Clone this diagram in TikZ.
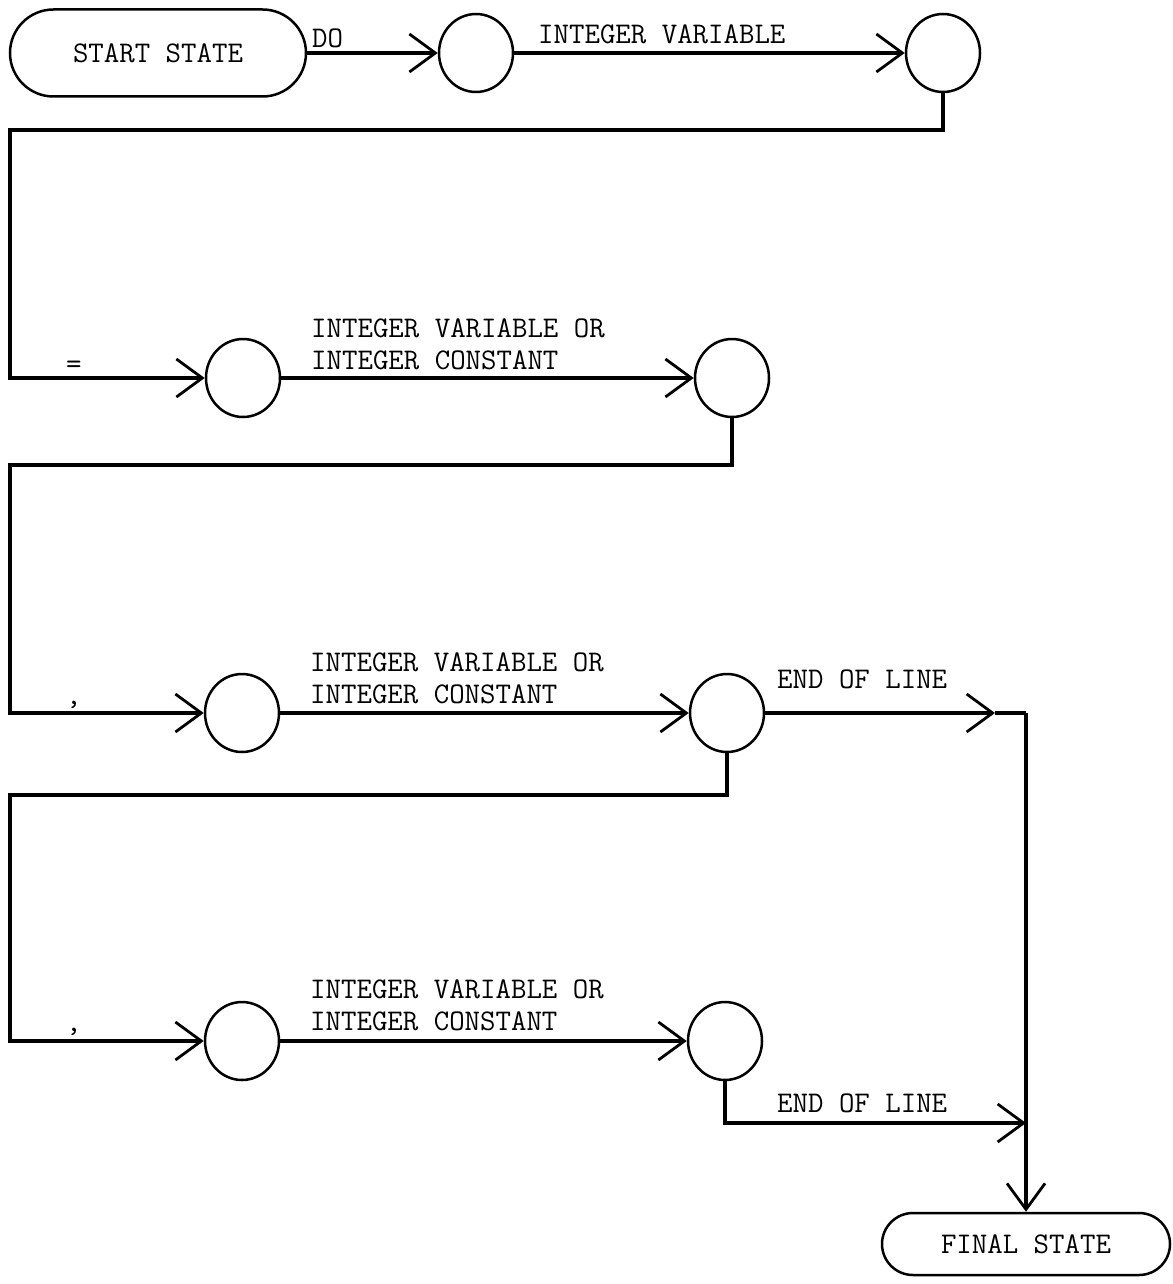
\documentclass[tikz,border=0pt]{standalone}
\usepackage{fontspec}
\usetikzlibrary{arrows.meta,shapes.misc,shapes.geometric}
\newcommand\lblfont{\fontsize{30}{31}\selectfont\ttfamily}
\begin{document}
\begin{tikzpicture}[x=1pt,y=-1pt,
  st/.style={ellipse,draw,line width=2.5pt,minimum width=74pt,minimum height=78pt,inner sep=0pt},
  term/.style={rounded rectangle,draw,line width=2.5pt,inner sep=0pt,font=\lblfont},
  conn/.style={line width=3.2pt},
  arr/.style={conn,-{Straight Barb[length=26pt,width=38pt,line width=2.8pt]}},
  lbl/.style={anchor=base west,inner sep=0pt,font=\lblfont},
]
\useasboundingbox (0,0) rectangle (1172,1284);
% states
\node[term,minimum width=296pt,minimum height=87pt] (start) at (158,53) {START STATE};
\node[st] (c1) at (476,53) {};
\node[st] (c2) at (943,53) {};
\node[st] (c3) at (243,378) {};
\node[st] (c4) at (732,378) {};
\node[st] (c5) at (242,713) {};
\node[st] (c6) at (727,713) {};
\node[st] (c7) at (242,1041) {};
\node[st] (c8) at (725,1041) {};
\node[term,minimum width=288pt,minimum height=62pt] (final) at (1026,1244) {FINAL STATE};
% bend points
\coordinate (b1) at (10,130);
\coordinate (b2) at (10,465);
\coordinate (b3) at (10,795);
\coordinate (a1) at (995,713);
\coordinate (j1) at (1026,713);
\coordinate (j2) at (1026,1123);
% connectors
\draw[arr] (start.east) -- (c1.west);
\draw[arr] (c1.east) -- (c2.west);
\draw[arr] (c2.south) |- (b1) |- (c3.west);
\draw[arr] (c3.east) -- (c4.west);
\draw[arr] (c4.south) |- (b2) |- (c5.west);
\draw[arr] (c5.east) -- (c6.west);
\draw[arr] (c6.east) -- (a1);
\draw[conn] (a1) -- (j1);
\draw[arr] (c6.south) |- (b3) |- (c7.west);
\draw[arr] (c7.east) -- (c8.west);
\draw[arr] (c8.south) |- (j2);
\draw[arr] (j1) -- (final.north);
% labels
\node[lbl] (lDO) at (312,48) {DO};
\node[lbl] (l2) at (538,44) {INTEGER VARIABLE};
\node[lbl] (leq) at (66,373) {=};
\node[lbl] (l3a) at (311,337) {INTEGER VARIABLE OR};
\node[lbl] (l3b) at (311,369) {INTEGER CONSTANT};
\node[lbl] (lc1) at (66,704) {,};
\node[lbl] (l5a) at (310,671) {INTEGER VARIABLE OR};
\node[lbl] (l5b) at (310,703) {INTEGER CONSTANT};
\node[lbl] (le1) at (777,688) {END OF LINE};
\node[lbl] (lc2) at (66,1031) {,};
\node[lbl] (l7a) at (310,998) {INTEGER VARIABLE OR};
\node[lbl] (l7b) at (310,1030) {INTEGER CONSTANT};
\node[lbl] (le2) at (777,1112) {END OF LINE};
\end{tikzpicture}
\end{document}
